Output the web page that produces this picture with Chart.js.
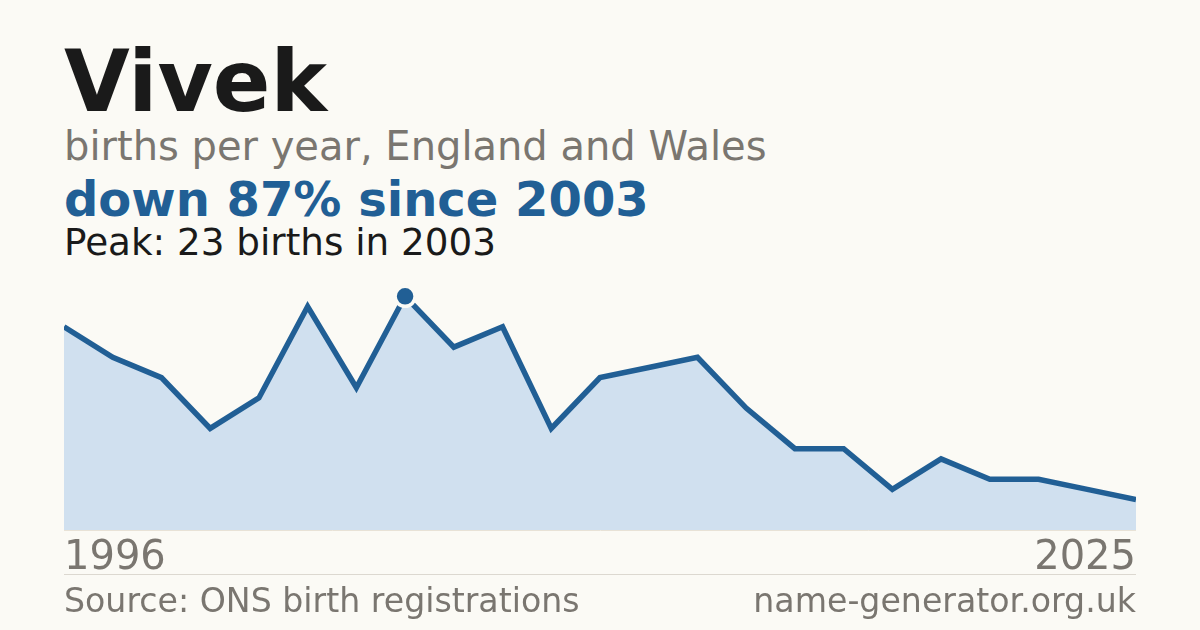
<!DOCTYPE html>
<html lang="en">
<head>
  <meta charset="UTF-8" />
  <title>Vivek - births per year</title>
  <script src="https://cdn.jsdelivr.net/npm/chart.js"></script>
  <style>
    html, body {
      margin: 0;
      padding: 0;
      width: 1200px;
      height: 630px;
      background: #fbfaf5;
      font-family: "DejaVu Sans", sans-serif;
      overflow: hidden;
    }
    .txt {
      position: absolute;
      left: 64px;
      line-height: 1;
      white-space: nowrap;
    }
    #title { top: 39px; font-size: 85px; font-weight: bold; color: #1a1a1a; }
    #sub { top: 126px; font-size: 40px; color: #7a7670; }
    #change { top: 175px; font-size: 48px; font-weight: bold; color: #215f95; }
    #peak { top: 224px; font-size: 37.3px; color: #1a1a1a; }
    #source { top: 584px; font-size: 33.2px; color: #7a7670; }
    #site { top: 584px; left: auto; right: 64px; font-size: 33.2px; color: #7a7670; }
    #rule {
      position: absolute;
      left: 64px;
      top: 574px;
      width: 1072px;
      height: 1px;
      background: #dcd8d0;
    }
    #wrap {
      position: absolute;
      left: 64px;
      top: 276px;
      width: 1072px;
      height: 310px;
    }
  </style>
</head>
<body>
  <div class="txt" id="title">Vivek</div>
  <div class="txt" id="sub">births per year, England and Wales</div>
  <div class="txt" id="change">down 87% since 2003</div>
  <div class="txt" id="peak">Peak: 23 births in 2003</div>
  <div id="wrap"><canvas id="chart"></canvas></div>
  <div id="rule"></div>
  <div class="txt" id="source">Source: ONS birth registrations</div>
  <div class="txt" id="site">name-generator.org.uk</div>

  <script>
    // years with published counts (only first and last are labelled)
    const years = [1996, 1997, 1998, 1999, 2000, 2001, 2002, 2003, 2004, 2005, 2006, 2007,
                   2008, 2010, 2012, 2013, 2015, 2017, 2019, 2021, 2023, 2024, 2025];
    const births = [20, 17, 15, 10, 13, 22, 14, 23, 18, 20, 10, 15,
                    16, 17, 12, 8, 8, 4, 7, 5, 5, 4, 3];
    const peakIndex = births.indexOf(Math.max(...births));

    const blue = "#215f95";
    const bg = "#fbfaf5";

    const ctx = document.getElementById("chart").getContext("2d");
    new Chart(ctx, {
      type: "line",
      data: {
        labels: years,
        datasets: [
          {
            data: births,
            borderColor: blue,
            borderWidth: 5.5,
            borderCapStyle: "butt",
            borderJoinStyle: "miter",
            backgroundColor: "#d0e0ef",
            fill: "origin",
            tension: 0,
            pointRadius: births.map((v, i) => (i === peakIndex ? 10 : 0)),
            pointBackgroundColor: blue,
            pointBorderColor: bg,
            pointBorderWidth: 3.5,
            pointHoverRadius: 0,
          },
        ],
      },
      options: {
        responsive: true,
        maintainAspectRatio: false,
        animation: false,
        events: [],
        layout: { padding: 0, autoPadding: false },
        plugins: {
          legend: { display: false },
          tooltip: { enabled: false },
        },
        scales: {
          x: {
            offset: false,
            grid: { display: false },
            border: { display: true, color: "#e8e2d6", width: 1 },
            afterFit: (scale) => { scale.height = 56; },
            ticks: {
              autoSkip: false,
              maxRotation: 0,
              align: "inner",
              padding: -3,
              color: "#7a7670",
              font: { family: "DejaVu Sans", size: 40 },
              callback: function (value, index) {
                return index === 0 || index === years.length - 1 ? this.getLabelForValue(value) : "";
              },
            },
          },
          y: {
            display: false,
            min: 0,
            max: 25,
          },
        },
      },
    });
  </script>
</body>
</html>
